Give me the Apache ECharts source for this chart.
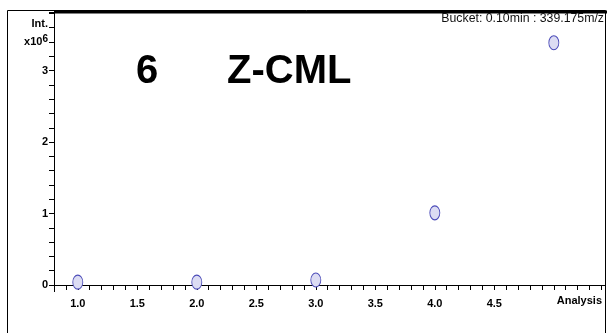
<!DOCTYPE html>
<html>
<head>
<meta charset="utf-8">
<script src="https://cdn.jsdelivr.net/npm/echarts@6/dist/echarts.min.js"></script>
<style>
html,body{margin:0;padding:0;background:#fff;}
#chart{width:608px;height:333px;}
</style>
</head>
<body>
<div id="chart"></div>
<script>
// Data
const analysis = [1, 2, 3, 4, 5];
const intensity = [0.04, 0.04, 0.07, 1.01, 3.39]; // x10^6
const yTickLabels = {0: '0', 1: '1', 2: '2', 3: '3', 3.4: 'x10^6', 3.6: 'Int.'};
const xLabelValues = [1.0, 1.5, 2.0, 2.5, 3.0, 3.5, 4.0, 4.5];
const titleNumber = '6';
const titleName = 'Z-CML';
const bucketText = 'Bucket: 0.10min : 339.175m/z';
const xAxisName = 'Analysis';

const points = analysis.map((a, i) => [a, intensity[i]]);
const narrow = '"Liberation Sans Narrow", "Liberation Sans", Arial, sans-serif';

const chart = echarts.init(document.getElementById('chart'), null, {renderer: 'canvas'});
chart.setOption({
  animation: false,
  backgroundColor: '#fff',
  grid: {left: 54, right: 3, top: 12, bottom: 48},
  xAxis: {
    type: 'value', min: 0.8, max: 5.43, interval: 0.1, offset: 7,
    splitLine: {show: false},
    axisLine: {show: true, lineStyle: {color: '#000', width: 1}},
    axisTick: {show: true, inside: false, length: 5, lineStyle: {color: '#000', width: 1}},
    axisLabel: {
      show: true, margin: 6, color: '#000', fontFamily: narrow, fontWeight: 'bold', fontSize: 11,
      showMinLabel: true, showMaxLabel: true,
      formatter: function (v) {
        for (const l of xLabelValues) { if (Math.abs(v - l) < 1e-6) return l.toFixed(1); }
        return '';
      }
    },
    name: xAxisName, nameLocation: 'end', nameGap: 0,
    nameTextStyle: {color: '#000', fontFamily: narrow, fontWeight: 'bold', fontSize: 11,
      align: 'right', verticalAlign: 'top', padding: [10, 3, 0, 0]}
  },
  yAxis: {
    type: 'value', min: 0, max: 3.82, interval: 0.2,
    splitLine: {show: false},
    axisLine: {show: true, lineStyle: {color: '#000', width: 1}},
    axisTick: {show: true, inside: false, length: 5, lineStyle: {color: '#000', width: 1}},
    axisLabel: {
      show: true, margin: 6, color: '#000', fontFamily: narrow, fontWeight: 'bold', fontSize: 11,
      formatter: function (v) {
        for (const k in yTickLabels) {
          if (Math.abs(v - parseFloat(k)) < 1e-6) {
            const s = yTickLabels[k];
            if (s === 'x10^6') return '{b|x10}{s|6}';
            if (s === 'Int.') return '{i|Int.}';
            return s;
          }
        }
        return '';
      },
      rich: {
        b: {fontFamily: narrow, fontWeight: 'bold', fontSize: 11, color: '#000'},
        s: {fontFamily: narrow, fontWeight: 'bold', fontSize: 10, color: '#000', verticalAlign: 'top', padding: [0, 0, 6, 0]},
        i: {fontFamily: narrow, fontWeight: 'bold', fontSize: 11, color: '#000', padding: [0, 0, 8, 0]}
      }
    }
  },
  series: [{
    type: 'scatter',
    data: points,
    symbol: 'circle',
    symbolSize: [10, 14],
    itemStyle: {color: '#dcdcf3', borderColor: '#4b4bb8', borderWidth: 1, opacity: 1}
  }],
  graphic: [
    {type: 'rect', silent: true, shape: {x: 7.5, y: 10.5, width: 598, height: 340},
      style: {fill: 'none', stroke: '#000', lineWidth: 1}},
    {type: 'line', silent: true, shape: {x1: 54, y1: 12, x2: 607, y2: 12},
      style: {stroke: '#000', lineWidth: 3}},
    {type: 'line', silent: true, shape: {x1: 54.5, y1: 285, x2: 54.5, y2: 292},
      style: {stroke: '#000', lineWidth: 1}},
    {type: 'text', silent: true, left: 136, top: 52,
      style: {text: titleNumber, fill: '#000', font: 'bold 40px "Liberation Sans", Arial, sans-serif'}},
    {type: 'text', silent: true, left: 227, top: 52,
      style: {text: titleName, fill: '#000', font: 'bold 40px "Liberation Sans", Arial, sans-serif'}},
    {type: 'text', silent: true, right: 4, top: 13,
      style: {text: bucketText, fill: '#111', font: '12.3px ' + narrow}}
  ]
});
</script>
</body>
</html>
